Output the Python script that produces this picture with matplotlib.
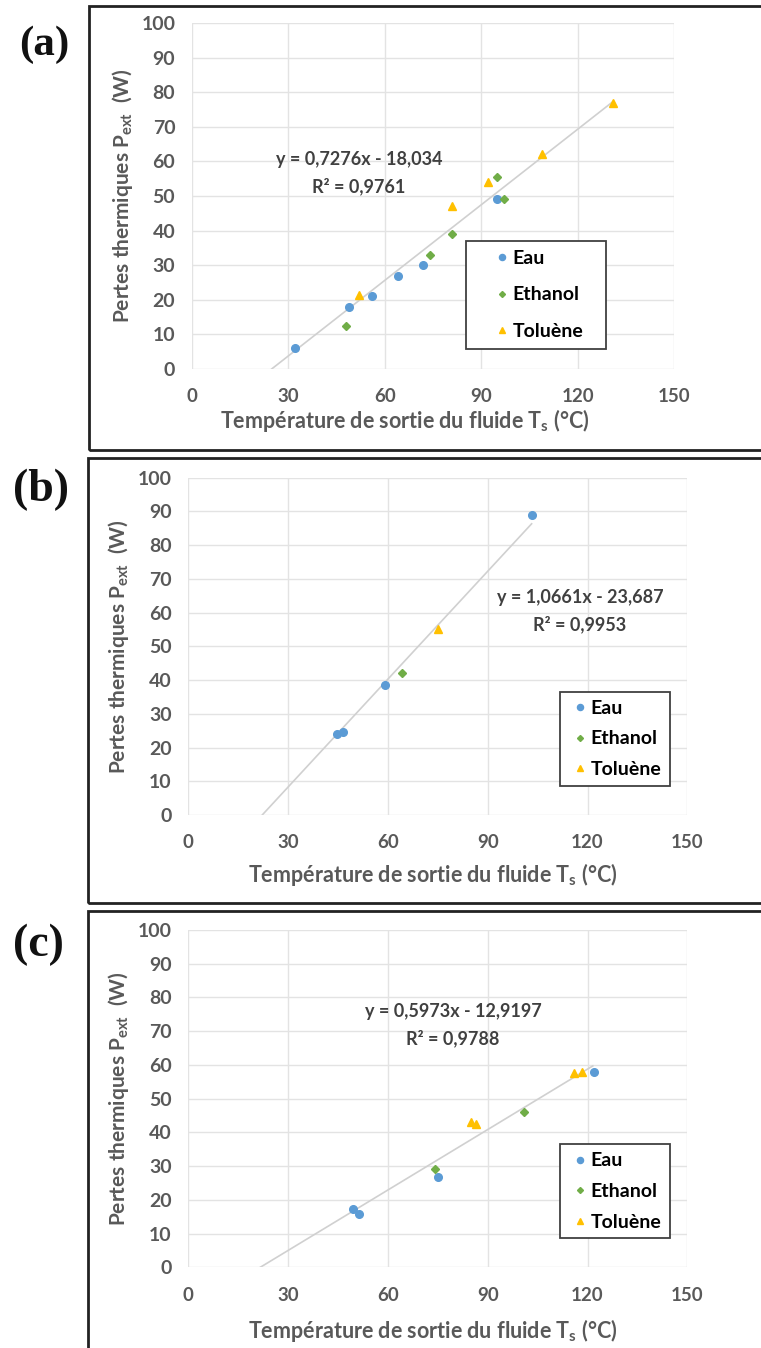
import matplotlib
matplotlib.use("Agg")
import matplotlib.pyplot as plt
from matplotlib.patches import Rectangle
import numpy as np

plt.rcParams['font.family'] = ['Lato', 'DejaVu Sans']

# ---------------- data ----------------
series_names = ["Eau", "Ethanol", "Toluène"]
panel_labels = ["(a)", "(b)", "(c)"]

# panel (a)
a_eau_x = [32, 49, 56, 64, 72, 95]
a_eau_y = [6, 18, 21, 27, 30, 49]
a_eth_x = [48, 74, 81, 95, 97]
a_eth_y = [12.3, 33, 39, 55.5, 49]
a_tol_x = [52, 81, 92, 109, 131]
a_tol_y = [21.5, 47, 54, 62, 77]
a_slope, a_inter, a_r2 = 0.7276, -18.034, "0,9761"
a_eq = "y = 0,7276x - 18,034"
a_line_x = [24.8, 131]

# panel (b)
b_eau_x = [44.6, 46.4, 59.2, 103.2]
b_eau_y = [23.9, 24.5, 38.5, 88.8]
b_eth_x = [64.1]
b_eth_y = [42.0]
b_tol_x = [75.0]
b_tol_y = [55.1]
b_slope, b_inter, b_r2 = 1.0661, -23.687, "0,9953"
b_eq = "y = 1,0661x - 23,687"
b_line_x = [22.2, 103.2]

# panel (c)
c_eau_x = [49.5, 51.2, 75.0, 122.0]
c_eau_y = [17.3, 15.9, 26.9, 58.0]
c_eth_x = [74.1, 101.0]
c_eth_y = [29.1, 46.0]
c_tol_x = [85.0, 86.6, 116.0, 118.2]
c_tol_y = [43.0, 42.5, 57.5, 58.0]
c_slope, c_inter, c_r2 = 0.5973, -12.9197, "0,9788"
c_eq = "y = 0,5973x - 12,9197"
c_line_x = [21.6, 121.6]

x_ticks = [0, 30, 60, 90, 120, 150]
y_ticks = [0, 10, 20, 30, 40, 50, 60, 70, 80, 90, 100]

# ---------------- style ----------------
W, H = 761, 1348
DPI = 100
fig = plt.figure(figsize=(W / DPI, H / DPI), dpi=DPI)

col_eau = "#5B9BD5"
col_eth = "#70AD47"
col_tol = "#FFC000"
txt_gray = "#595959"
grid_col = "#E3E3E3"
line_col = "#D0D0D0"

def fx(x):
    return x / W

def fy(y):
    return 1 - y / H

def px_box(x0, y0, x1, y1):
    return [x0 / W, 1 - y1 / H, (x1 - x0) / W, (y1 - y0) / H]

panels = [
    dict(pos=px_box(192, 23, 674, 369),
         eau=(a_eau_x, a_eau_y), eth=(a_eth_x, a_eth_y), tol=(a_tol_x, a_tol_y),
         slope=a_slope, inter=a_inter, eq=a_eq, r2=a_r2, lx=a_line_x,
         eqpos=(52, 60.5, 52.7),
         legbox=(466, 241, 606, 349), legmark=(502, 258.7), legstep=36.2,
         box=(89, 6, 450), lab=(19, 45), labsize=31,
         xlab=(405, 407), ylab=135),
    dict(pos=px_box(188.3, 477.7, 687.3, 815),
         eau=(b_eau_x, b_eau_y), eth=(b_eth_x, b_eth_y), tol=(b_tol_x, b_tol_y),
         slope=b_slope, inter=b_inter, eq=b_eq, r2=b_r2, lx=b_line_x,
         eqpos=(117.7, 64.4, 56.6),
         legbox=(560, 692, 670, 786), legmark=(580, 708.3), legstep=30.7,
         box=(88, 458, 903), lab=(13, 490), labsize=33,
         xlab=(433, 861), ylab=131),
    dict(pos=px_box(188.3, 930, 687.3, 1267.3),
         eau=(c_eau_x, c_eau_y), eth=(c_eth_x, c_eth_y), tol=(c_tol_x, c_tol_y),
         slope=c_slope, inter=c_inter, eq=c_eq, r2=c_r2, lx=c_line_x,
         eqpos=(79.6, 75.8, 68.0),
         legbox=(560, 1144, 670, 1238), legmark=(580, 1161), legstep=30.7,
         box=(88, 911, 1400), lab=(13, 945), labsize=33,
         xlab=(433, 1317), ylab=131),
]

LEG_FS = 14
for i, p in enumerate(panels):
    # outer black frame (right side beyond image)
    x0, y0, y1 = p["box"]
    fig.patches.append(Rectangle((fx(x0), fy(y1)), 2.0, (y1 - y0) / H,
                                 transform=fig.transFigure, fill=False,
                                 edgecolor="#222222", linewidth=2.0, zorder=0))
    fig.text(fx(p["lab"][0]), fy(p["lab"][1]), panel_labels[i],
             family="Liberation Serif", fontweight="bold", fontsize=p["labsize"],
             va="center", ha="left", color="#111111")

    ax = fig.add_axes(p["pos"])
    ax.set_xlim(0, 150)
    ax.set_ylim(0, 100)
    ax.set_xticks(x_ticks)
    ax.set_yticks(y_ticks)
    ax.grid(True, color=grid_col, linewidth=1.0)
    ax.set_axisbelow(True)
    for s in ax.spines.values():
        s.set_visible(False)
    ax.tick_params(length=0, labelcolor=txt_gray)
    ax.tick_params(axis="y", labelsize=14, pad=12)
    ax.tick_params(axis="x", labelsize=13.5, pad=14)
    for t in ax.get_xticklabels() + ax.get_yticklabels():
        t.set_fontweight("bold")

    lx = np.array(p["lx"])
    ax.plot(lx, p["slope"] * lx + p["inter"], color=line_col, linewidth=1.2, zorder=2)

    h1, = ax.plot(*p["eau"], linestyle="none", marker="o", ms=5.5, color=col_eau,
                  label=series_names[0], zorder=3)
    h2, = ax.plot(*p["eth"], linestyle="none", marker="D", ms=3.8, color=col_eth,
                  label=series_names[1], zorder=3)
    h3, = ax.plot(*p["tol"], linestyle="none", marker="^", ms=5.5, color=col_tol,
                  label=series_names[2], zorder=3)

    ex, ey1, ey2 = p["eqpos"]
    ax.text(ex, ey1, p["eq"], ha="center", va="center", fontsize=13,
            fontweight="bold", color="#404040")
    ax.text(ex, ey2, "R² = " + p["r2"], ha="center", va="center", fontsize=13,
            fontweight="bold", color="#404040")

    # legend frame
    lb = p["legbox"]
    fig.patches.append(Rectangle((fx(lb[0]), fy(lb[3])), (lb[2] - lb[0]) / W,
                                 (lb[3] - lb[1]) / H, transform=fig.transFigure,
                                 facecolor="white", edgecolor="#404040",
                                 linewidth=1.3, zorder=5))
    fs_px = LEG_FS * DPI / 72
    hl = 0.8
    row_h = 17.0
    labsp = (p["legstep"] - row_h) / fs_px
    mx, my = p["legmark"]
    leg = fig.legend(handles=[h1, h2, h3], labels=series_names,
                     loc="upper left",
                     bbox_to_anchor=(fx(mx - hl / 2 * fs_px), fy(my - row_h / 2)),
                     bbox_transform=fig.transFigure, frameon=False,
                     prop=dict(family="Lato", weight="bold", size=LEG_FS),
                     handlelength=hl, handletextpad=0.15, labelspacing=labsp,
                     borderpad=0, borderaxespad=0, markerscale=0.8)
    leg.set_zorder(6)

    ax.set_xlabel("Température de sortie du fluide T$_\\mathregular{s}$ (°C)",
                  fontsize=15.5, fontweight="bold", color=txt_gray)
    inv = ax.transAxes.inverted()
    xl = inv.transform(fig.transFigure.transform((fx(p["xlab"][0]), fy(p["xlab"][1]))))
    ax.xaxis.set_label_coords(xl[0], xl[1])
    ax.set_ylabel("Pertes thermiques P$_\\mathregular{ext}$  (W)",
                  fontsize=15, fontweight="bold", color=txt_gray)
    yl = inv.transform(fig.transFigure.transform((fx(p["ylab"]), 0.5)))
    ax.yaxis.set_label_coords(yl[0], 0.5)

fig.savefig("out.png", dpi=DPI)
